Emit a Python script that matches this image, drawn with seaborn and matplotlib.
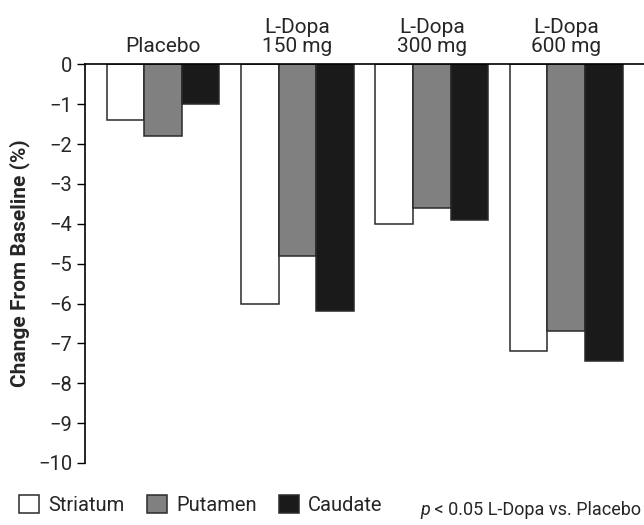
import matplotlib
matplotlib.use("Agg")
import matplotlib.pyplot as plt
import seaborn as sns
import pandas as pd
from matplotlib import font_manager

groups = ["Placebo", "L-Dopa\n150 mg", "L-Dopa\n300 mg", "L-Dopa\n600 mg"]
regions = ["Striatum", "Putamen", "Caudate"]
striatum = [-1.4, -6.0, -4.0, -7.2]
putamen = [-1.8, -4.8, -3.6, -6.7]
caudate = [-1.0, -6.2, -3.9, -7.45]
yticks = [0, -1, -2, -3, -4, -5, -6, -7, -8, -9, -10]
ylabel = "Change From Baseline (%)"
note_p = "p"
note_rest = " < 0.05 L-Dopa vs. Placebo"

sns.set_theme(style="white")
names = {f.name for f in font_manager.fontManager.ttflist}
fam = ["Liberation Sans Narrow", "DejaVu Sans"] if "Liberation Sans Narrow" in names else ["Roboto", "DejaVu Sans"]
plt.rcParams["font.family"] = fam

rows = []
for vals, r in zip([striatum, putamen, caudate], regions):
    for g, v in zip(groups, vals):
        rows.append({"group": g, "region": r, "value": v})
df = pd.DataFrame(rows)

fig = plt.figure(figsize=(6.44, 5.25), dpi=100)
ax = fig.add_axes([85 / 644, 1 - 463 / 525, 1 - 85 / 644, (463 - 64.3) / 525])

palette = {"Striatum": "white", "Putamen": "#808080", "Caudate": "#1a1a1a"}
sns.barplot(data=df, x="group", y="value", hue="region", order=groups,
            hue_order=regions, palette=palette, width=0.84, gap=0,
            edgecolor="#2a2a2a", linewidth=1.1, ax=ax, legend=True)

ax.set_ylim(-10, 0)
ax.set_xlim(-0.58, 3.58)
ax.set_yticks(yticks)
ax.set_yticklabels(["0"] + ["\u2212%d" % (-t) for t in yticks[1:]], fontsize=14.5)
ax.xaxis.tick_top()
ax.set_xticks(range(len(groups)))
ax.set_xticklabels(groups, fontsize=15, linespacing=1.0)
ax.tick_params(axis="x", length=0, pad=6)
ax.tick_params(axis="y", length=6, width=1, color="black", direction="out", pad=3, left=True)
ax.set_xlabel("")
ax.set_ylabel(ylabel, fontsize=15, fontweight="bold", labelpad=6)

for s in ["right", "bottom"]:
    ax.spines[s].set_visible(False)
for s in ["left", "top"]:
    ax.spines[s].set_visible(True)
    ax.spines[s].set_color("black")
    ax.spines[s].set_linewidth(1.2)

handles, labels = ax.get_legend_handles_labels()
ax.get_legend().remove()
fig.legend(handles, labels, loc="lower left", bbox_to_anchor=(0.005, -0.012), ncol=3,
           frameon=False, fontsize=14.5, handlelength=1.0, handleheight=1.0,
           handletextpad=0.45, columnspacing=1.1, borderpad=0.3)

t_rest = fig.text(0.996, 0.012, note_rest, fontsize=13, ha="right", va="bottom")
fig.canvas.draw()
bb = t_rest.get_window_extent()
x0 = bb.x0 / fig.bbox.width
fig.text(x0, 0.012, note_p, fontsize=13, style="italic", ha="right", va="bottom")

fig.savefig("out.png", dpi=100)
